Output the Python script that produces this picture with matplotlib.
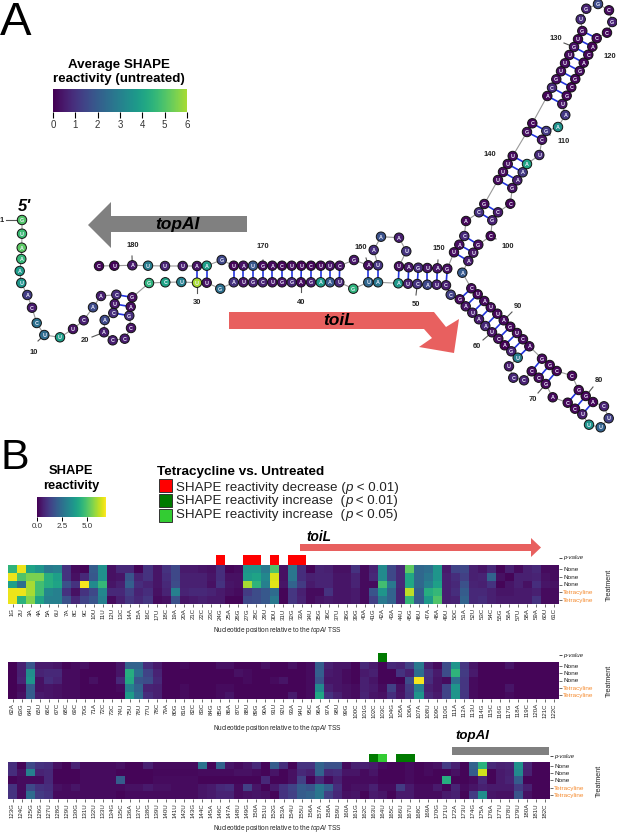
import matplotlib
matplotlib.use("Agg")
import matplotlib.pyplot as plt
from matplotlib.patches import Polygon, Rectangle
from matplotlib.cm import ScalarMappable
from matplotlib.colors import Normalize
import numpy as np

plt.rcParams['font.family'] = ['Liberation Sans', 'DejaVu Sans']
plt.rcParams['mathtext.fontset'] = 'custom'
plt.rcParams['mathtext.rm'] = 'Liberation Sans'
plt.rcParams['mathtext.it'] = 'Liberation Sans:italic'
plt.rcParams['mathtext.bf'] = 'Liberation Sans:bold'

W, H = 617, 833
sequence = ("GUAAAUACCU" "UUCAACUCAA" "CCCGAGGCUU" "UGAUGCUGGA" "GAAUGUAAUC"
            "AUCCGAUAAU" "CAGUUCCCCG" "ACCUUUUCAG" "GCCGGACUGA" "UUAUCAAUGC"
            "GCCGAAAUCG" "AAUGCGGACA" "CCGCGGUGUG" "UUUGCACGUU" "UUGCACAUGA"
            "UGAUUAAAUA" "GCUUCUUCAG" "UAUGAAUUUA" "UC")

# per-position SHAPE values, rows: None, None, None, Tetracycline, Tetracycline
panel1 = [
 [4.5,6.7,3.9,6.7,6.7],[6.7,5.0,2.5,6.7,4.4],[4.0,5.5,6.0,6.0,5.6],[3.6,5.5,4.8,4.8,4.0],[2.8,4.3,4.3,3.2,3.0],
 [3.0,3.9,4.0,3.0,3.0],[1.0,1.0,1.7,1.0,1.7],[.2,.3,1.0,.3,.8],[.1,.8,6.8,1.0,1.4],[2.0,1.9,3.3,1.5,1.8],
 [3.5,3.5,4.6,3.2,3.0],[.3,.3,.4,.8,.2],[.8,.4,.6,.8,.6],[.8,1.8,2.1,1.3,1.1],[.1,.7,.9,.7,.8],
 [1.0,1.0,.7,.9,1.1],[.4,.4,.4,.3,.2],[1.0,.9,.8,.7,.3],[1.5,1.5,1.6,3.0,1.7],[.5,.6,.6,.7,.4],
 [.5,.6,.6,.8,.5],[.4,.6,.6,.8,.6],[.3,.4,.3,.7,.5],[.9,.9,1,.5,.5],[.1,.3,.4,.3,.1],
 [.2,.3,.3,.2,.1],[3.6,3.8,6.0,1.2,1.5],[3.6,4.0,4.5,1.6,1.6],[2.8,3.2,3.0,1.9,1.9],[5.0,6.5,6.6,2.4,2.8],
 [.3,.3,.4,.1,.1],[2.7,2.7,2.2,1.1,1.1],[.9,.9,1.2,.6,.7],[.1,.6,.5,.2,.2],[.7,.7,.7,.2,.4],
 [.6,.7,.7,1.0,.5],[.3,.4,.4,.4,.4],[.3,.4,.4,.4,.4],[1.0,.7,.7,.5,.5],[.2,.2,.2,.2,.2],
 [.7,.8,.2,1.8,1.3],[3.3,3.3,4.8,3.6,2.8],[1.5,1.5,2.8,2.2,2.2],[.8,.8,.8,.7,.7],[5.2,4.1,4.1,6.2,4.6],
 [2.3,2.3,2.3,2.0,1.9],[2.5,2.7,3.0,4.3,3.7],[3.6,3.6,3.9,4.6,5.0],[.5,.6,.6,.6,.6],[1.4,.9,.8,.9,.7],
 [1.5,1.3,1.7,2.0,2.2],[.6,.6,.7,.8,.8],[.4,.7,.6,.8,.9],[.8,2.2,1.0,.6,.6],[.1,.3,.1,.4,.5],
 [.6,.1,.4,.4,.5],[.2,.6,.6,.5,.5],[.6,.6,.3,.5,.5],[.8,.7,.9,.6,1.0],[.2,.3,.4,.2,.2],[.2,.2,.3,.2,.2]]
panel2 = [
 [.05,.05,.05,.05,.05],[.6,.6,.7,.2,.3],[1.8,3.4,3.6,2.0,2.0],[.5,.7,.3,.3,.5],[.5,.8,.9,.4,.4],
 [.4,.8,.7,.3,.3],[.1,.2,.2,.2,.2],[.2,.2,.2,.2,.2],[.3,.1,.1,.1,.1],[.1,.1,.3,.1,.1],
 [.1,.1,.1,.1,.1],[.1,.1,.1,.1,.1],[.4,.4,.8,.2,.1],[2.2,4.3,4.2,3.0,3.8],[2.2,2.5,1.8,2.2,2.4],
 [.9,1.4,1.6,.7,.9],[.5,.7,.8,.6,.6],[.1,.1,.1,.1,.1],[.1,.1,.1,.1,.1],[.2,.1,.1,.2,.2],
 [.1,.1,.1,.1,.1],[.1,.1,.1,.1,.1],[.1,.1,.1,.1,.1],[.3,.1,.1,.2,.2],[.3,.1,.1,.2,.4],
 [.1,.3,.1,.1,.1],[.1,.2,.2,.1,.1],[.1,.1,.1,.1,.1],[.3,.1,.1,.1,.1],[.1,.1,.2,.1,.1],
 [.1,.1,.4,.1,.1],[.3,.1,.1,.1,.5],[.1,.1,.1,.1,.1],[.2,.2,.2,.2,.2],[2.0,2.1,1.8,3.3,4.1],
 [.6,.5,.4,.6,1.0],[.4,.4,.4,.4,.6],[.4,.2,.2,.3,.3],[.1,.1,.1,.2,.2],[.8,.5,.6,.6,.7],
 [.5,.6,.4,.5,.4],[.1,.1,.1,.2,.3],[.8,.1,.1,1.3,.9],[.7,1.0,.05,.3,.4],[1.3,.6,1.6,1.2,1.1],
 [2.8,2.5,6.8,3.0,3.6],[.6,1.0,.9,.6,.8],[.2,.5,.4,.4,.5],[1.6,1.6,.2,1.4,1.4],[3.6,4.5,2.5,3.6,3.6],
 [1.1,1.2,1.1,1.1,1.1],[.4,.5,.2,.2,.2],[.1,.1,.1,.1,.1],[.1,.1,.1,.1,.1],[.1,.1,.1,.1,.1],
 [.4,.1,.1,.4,.2],[.1,.1,.1,.1,.1],[.1,.1,.1,.1,.1],[.1,.1,.1,.1,.1],[.1,.1,.1,.1,.1],[.1,.1,.1,.1,.1]]
panel3 = [
 [.9,.9,.1,1,1],[.1,.3,.2,.2,.2],[1.5,3.0,.2,1.5,2.4],[1,.7,.2,1,1.2],[.9,.8,.8,.9,1],
 [.3,.1,.1,.3,.2],[.1,.1,.1,.2,.2],[.7,.1,.1,.4,.2],[.2,.2,.2,.2,.2],[.2,.2,.2,.2,.2],
 [.2,.2,.2,.2,.2],[.2,.2,.2,.2,.2],[.3,.1,2.0,.2,.1],[.1,.1,.1,.3,.2],[.1,.1,.1,.3,.2],
 [.6,.1,.1,.5,.2],[.2,.15,.2,.3,.2],[.2,.15,.2,.3,.2],[.2,.15,.2,.2,.2],[.2,.15,.2,.2,.2],
 [.2,.15,.2,.2,.2],[2.6,.2,.1,.4,.4],[.1,.2,.1,.5,.5],[2.2,.2,.1,.8,.7],[.4,.2,.1,.9,.7],
 [.2,.3,.1,.2,.2],[.4,.3,.1,1.3,.3],[.8,.2,.1,.4,.4],[.1,.1,.8,.1,.3],[2.0,.4,.1,.5,.1],
 [.9,.1,.1,1,1],[.1,.3,.3,1.4,1.3],[1,.8,1.3,2.0,2.0],[1,.6,.1,1.8,2.2],[2.2,2.2,.8,2.7,2.7],
 [1.7,.8,.2,2.1,1.3],[1.7,.9,.6,.9,.8],[.2,.4,.2,.2,.3],[.6,.4,.2,.3,.4],[.6,.2,.2,.3,.1],
 [.5,.4,.2,.6,.5],[.2,.1,.1,.2,.4],[.1,.1,.1,.2,.1],[.1,.1,.1,1.2,.5],[.2,.2,.2,.5,.5],
 [.1,.1,.1,.2,.2],[.2,.2,.1,.2,.2],[.3,.1,.1,.5,.2],[1.2,.1,4.3,.1,.5],[.6,.3,.1,.7,.6],
 [.1,.1,.1,.2,.1],[2.2,2.0,.2,.4,1.2],[4.4,6.4,.8,.6,3.4],[.8,.1,.1,.5,.4],[.6,.5,.5,.5,.3],
 [.7,.6,.7,.5,.3],[3.5,3.3,2.0,1.2,1.8],[.7,.6,.1,.6,.3],[.1,.1,.1,.1,.1],[.1,.1,.1,.1,.1]]
row_labels = ['None', 'None', 'None', 'Tetracyline', 'Tetracyline']

# significant positions
RED, DGREEN, LGREEN = '#FF0000', '#007A00', '#33CC33'
sig_p1 = {24: RED, 27: RED, 28: RED, 30: RED, 32: RED, 33: RED}
sig_p2 = {103: DGREEN}
sig_p3 = {163: DGREEN, 164: LGREEN, 166: DGREEN, 167: DGREEN}

# secondary-structure node positions, read in pixels of the reference
node_x = [22,22,21.7,21.3,19.7,21.3,27.3,32,36.7,44.3,60,73,83.7,93,101,116.3,114.7,113.3,104.7,104,112.7,124.7,131,129.3,
          130.7,132.3,149,165.3,181.3,197,206.7,220.3,233.7,243.3,253,262.7,272.3,282,291.7,301,311,320.7,330,339.3,353.3,368.3,378,
          398.3,408,417.3,427.3,436.7,446,450.7,459.7,465.7,472.3,479,485.3,492,498.3,504.7,511.3,517.7,509,513.3,524,
          531.7,538.7,545.7,552.7,567.7,575,582.3,589,600.7,608.7,604,593,585.7,578.7,572,556.7,549.7,542,529.3,523,517,510.3,503.7,497.3,490.7,484.3,
          477.7,471.3,462.3,468.3,473.3,478.3,490.7,492.3,498,510.3,512.3,517.3,522.7,527,539.3,542,546.3,558,565.3,562.3,566.7,571.3,575.3,579.7,583.7,588.3,592.3,
          596.7,607,612.3,609,598,586.3,580.7,582.3,578,574,569.3,565,561,556.3,552,547.3,532.3,527,512.7,507.7,503,498,484.3,479,466,464.3,459.3,454,447.3,437.3,
          427.3,418.3,408.7,399,406.3,399,381,373.7,378,368.3,354,339.7,330,320.7,311,301.3,291.7,282,272.3,262.7,253,243.3,233.7,221.7,206.7,197,182.7,165,148,
          132.3,114.3,99]
node_y = [220,233.7,247.7,259,271,283,295,307.7,323,335,337.3,329,320.3,307.3,296,294.7,304,313,320,332.3,340.3,338.7,328,315.7,
          306.7,297.3,283,282.3,282,282.7,282.7,288.7,282.3,282.3,282.3,282.3,282.3,282.3,282.3,282.3,282.3,282.3,282.3,282.3,288.7,282.3,282.3,
          283.3,283.7,284,284.7,284.7,285.3,294.7,299.3,306.3,312.7,319.3,326,332.3,338.7,345.3,351.3,357.7,366.3,377.7,380.3,
          371.3,377.7,384,397.3,402.7,408.7,414.3,424.7,427.3,418.3,406.3,402,396,390,375.7,371,365,358.7,346.3,339.3,333,326.7,320.3,313.7,307.3,301,
          294.3,288.3,272.7,261,252.7,244.7,236,220.3,212.3,203.7,188,180.3,172.3,164,155,139.7,131,127,115,104,95.7,87.3,79,71,62.7,54.7,46.7,
          38.3,32.7,22,10.3,4,8.7,19.3,31,39.3,47,55,63.3,71.3,79.3,87.7,96,123.3,132,156,164,172,180,204,212.3,221,236,244.7,252.3,268.7,268.3,
          268,267.7,267.3,266.3,251.3,237.7,236.7,250,265.3,265.3,260,265.7,265.7,265.7,265.7,265.7,265.7,265.7,265.7,265.7,265.7,265.7,265.7,260,265.7,266,
          266,266,265.7,265.3,265.7,266]
pairs = [(16,26),(17,25),(18,24),(30,176),(31,175)] + [(33+k,173-k) for k in range(12)] + \
        [(46,160),(47,159),(48,154),(49,153),(50,152),(51,151),(52,150),(53,149)] + \
        [(55+k,95-k) for k in range(10)] + [(68,85),(69,84),(70,83),(72,81),(73,80),(74,79)] + \
        [(97,148),(98,147),(99,146),(101,144),(102,143),(104,142),(105,141),(106,140),(107,139),(109,138),(110,137)] + \
        [(113+k,136-k) for k in range(9)]
# number label: (position, label x, label y, line end x, line end y)
number_labels = [(1,2,220,6,220),(10,34,352,38,341),(20,85,340,92,337),(30,197,303,197,293),(40,301,302,301,292),
                 (50,416,304,416,295),(60,477,346,483,340),(70,533,399,538,393),(80,599,380,593,387),(90,518,306,512,312),
                 (100,508,246,496,239),(110,564,141,550,135),(120,610,56,597,48),(130,556,38,564,43),(140,490,154,507,161),
                 (150,439,248,438,260),(160,361,247,366,258),(170,263,246,263,260),(180,133,245,132,256)]

topai_shape = [(88,225),(111,202),(111,216),(247,216),(247,232),(111,232),(111,248)]
toil_shape = [(229,312),(434,312),(446,327),(459,319),(454,353),(419,347),(432,338),(424,329),(229,329)]
toil_small = [(300,544),(531,544),(531,538),(541,547.5),(531,557),(531,551),(300,551)]
VMAX = 6.9

fig = plt.figure(figsize=(W/100, H/100), dpi=100)
bg = fig.add_axes([0, 0, 1, 1])
bg.set_xlim(0, W); bg.set_ylim(H, 0); bg.axis('off')

def rect(x0, y0, x1, y1):
    return [x0/W, 1-y1/H, (x1-x0)/W, (y1-y0)/H]

cmap = plt.get_cmap('viridis')
# panel letters
bg.text(0, 35, 'A', fontsize=34, ha='left', va='baseline')
bg.text(0, 469, 'B', fontsize=31, ha='left', va='baseline')

# big arrows
bg.add_patch(Polygon(topai_shape, closed=True, fc='#808080', ec='none', zorder=1))
bg.add_patch(Polygon(toil_shape, closed=True, fc='#E8605F', ec='none', zorder=1))
bg.text(177, 224.5, 'topAI', fontsize=12.5, fontweight='bold', style='italic', ha='center', va='center', zorder=2)
bg.text(339, 320.5, 'toiL', fontsize=12.5, fontweight='bold', style='italic', ha='center', va='center', zorder=2)
bg.text(24, 206, "5'", fontsize=12, fontweight='bold', style='italic', ha='center', va='center')

# structure
nx = np.array(node_x); ny = np.array(node_y)
bg.plot(nx, ny, color='#999999', lw=0.8, zorder=2)
for i, j in pairs:
    bg.plot([nx[i-1], nx[j-1]], [ny[i-1], ny[j-1]], color='#2233DD', lw=1.2, zorder=3)
all_vals = np.array(panel1 + panel2 + panel3)
mean_untreated = all_vals[:, :3].mean(axis=1)
bg.scatter(nx, ny, c=mean_untreated, cmap='viridis', vmin=0, vmax=VMAX, s=46,
           edgecolors='#111111', linewidths=0.7, zorder=4)
for k, (x, y) in enumerate(zip(nx, ny)):
    bg.text(x, y, sequence[k], color='#EEEEFF', fontsize=3.9, fontweight='bold',
            ha='center', va='center_baseline', zorder=5)
for pos, lx, ly, ex, ey in number_labels:
    bg.plot([ex, nx[pos-1]], [ey, ny[pos-1]], color='#555555', lw=0.8, zorder=1.5)
    bg.text(lx, ly, str(pos), fontsize=5.4, fontweight='bold', color='#222222', ha='center', va='center')

# colour bar A
bg.text(119, 65, 'Average SHAPE', fontsize=9.6, fontweight='bold', ha='center', va='center')
bg.text(119, 79, 'reactivity (untreated)', fontsize=9.6, fontweight='bold', ha='center', va='center')
cax = fig.add_axes(rect(53, 89, 187, 112))
cax.imshow(np.linspace(0, 6, 256)[None, :], extent=[0, 6, 0, 1], aspect='auto', cmap='viridis', vmin=0, vmax=VMAX)
cax.set_yticks([]); cax.set_xticks(range(7))
cax.tick_params(length=4, width=0.8, labelsize=7, pad=1.5, labelcolor='#333333')
for s in cax.spines.values():
    s.set_visible(False)

# colour bar B
bg.text(71, 471, 'SHAPE', fontsize=9.3, fontweight='bold', ha='center', va='center')
bg.text(71, 486, 'reactivity', fontsize=9.3, fontweight='bold', ha='center', va='center')
cax2 = fig.add_axes(rect(37, 497, 106, 517))
cb2 = fig.colorbar(ScalarMappable(Normalize(0, VMAX), cmap), cax=cax2, orientation='horizontal', ticks=[0, 2.5, 5])
cb2.ax.set_xticklabels(['0.0', '2.5', '5.0'])
cb2.ax.tick_params(length=3, width=0.7, labelsize=5.8, pad=1.5, labelcolor='#333333')
cb2.outline.set_visible(False)

# legend
bg.text(157, 471.5, 'Tetracycline vs. Untreated', fontsize=9.7, fontweight='bold', ha='left', va='center')
legend_entries = [(RED, 'SHAPE reactivity decrease (', ' < 0.01)', 486, 485.5),
                  (DGREEN, 'SHAPE reactivity increase  (', ' < 0.01)', 499.5, 500),
                  (LGREEN, 'SHAPE reactivity increase  (', ' < 0.05)', 513.5, 515)]
renderer = fig.canvas.get_renderer()
for c, t1, t2, y, sy in legend_entries:
    bg.add_patch(Rectangle((159, sy-6.5), 13, 13, fc=c, ec='#333333', lw=0.7))
    x = 176
    for txt, st in ((t1, 'normal'), ('p', 'italic'), (t2, 'normal')):
        tt = bg.text(x, y, txt, fontsize=9.6, style=st, ha='left', va='center_baseline', color='#222222')
        x += tt.get_window_extent(renderer).width + (0 if not txt.endswith(' ') else 3)

# heat map panels
def panel(values, start, sig, x0, x1, ptop, htop, hbot, lab_y, treat_x):
    arr = np.array(values).T
    n = arr.shape[1]
    ax = fig.add_axes(rect(x0, htop, x1, hbot))
    ax.imshow(arr, aspect='auto', cmap='viridis', vmin=0, vmax=VMAX, interpolation='nearest')
    positions = list(range(start, start+n))
    ax.set_xticks(range(n))
    ax.set_xticklabels([f'{p}{sequence[p-1]}' for p in positions], rotation=90, fontsize=4.4, color='#222222')
    ax.yaxis.tick_right()
    ax.set_yticks(range(5))
    ax.set_yticklabels(row_labels, fontsize=4.6)
    for t, l in zip(ax.get_yticklabels(), row_labels):
        t.set_color('#F58A2E' if l != 'None' else '#222222')
    ax.tick_params(length=2, width=0.5, pad=1, color='#333333')
    for s in ax.spines.values():
        s.set_visible(False)
    pax = fig.add_axes(rect(x0, ptop, x1, htop))
    pax.set_xlim(-0.5, n-0.5); pax.set_ylim(0, 1)
    pax.bar([p-start for p in sig], [1]*len(sig), width=1, bottom=0, color=list(sig.values()), align='center')
    pax.set_xticks([])
    pax.yaxis.tick_right()
    pax.set_yticks([0.75])
    pax.set_yticklabels(['p-value'], fontsize=4.4, style='italic', color='#222222')
    pax.tick_params(length=2, width=0.5, pad=1)
    pax.patch.set_visible(False)
    for s in pax.spines.values():
        s.set_visible(False)
    bg.text(277, lab_y, r'Nucleotide position relative to the $topAI$ TSS', fontsize=4.7, ha='center', va='center', color='#222222')
    bg.text(treat_x, (htop+hbot)/2, 'Treatment', fontsize=5.1, rotation=90, ha='center', va='center', color='#222222')

panel(panel1, 1, sig_p1, 8, 559, 555, 565, 604, 630, 609)
panel(panel2, 62, sig_p2, 8, 559, 653, 662, 699, 729, 609)
panel(panel3, 123, sig_p3, 8, 550, 754, 762, 799, 829, 599)

# small gene tracks
bg.add_patch(Polygon(toil_small, closed=True, fc='#E8605F', ec='none'))
bg.text(319, 537, 'toiL', fontsize=9.8, fontweight='bold', style='italic', ha='center', va='center')
bg.add_patch(Rectangle((452, 747), 97, 8, fc='#808080', ec='none'))
bg.text(472, 736.5, 'topAI', fontsize=9.5, fontweight='bold', style='italic', ha='center', va='center')

fig.savefig('out.png', dpi=100)
